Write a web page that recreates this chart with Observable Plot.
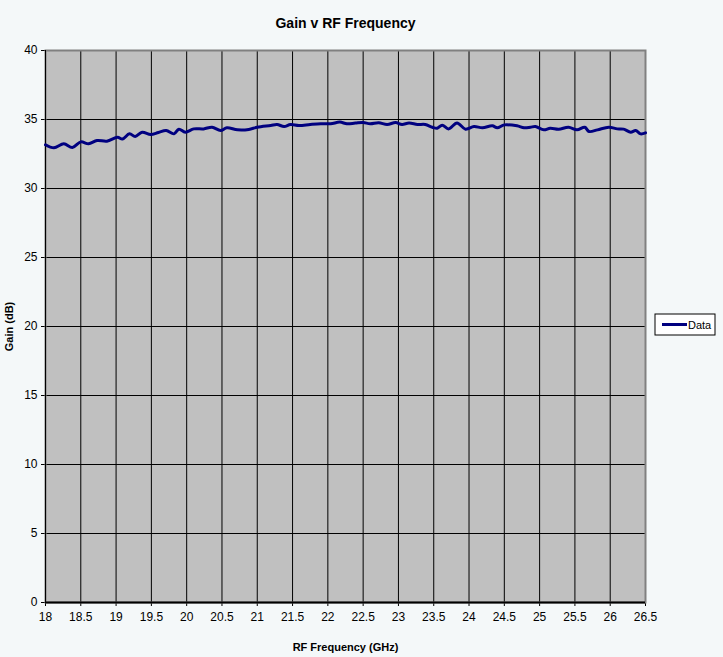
<!DOCTYPE html>
<html>
<head>
<meta charset="utf-8">
<script src="https://cdn.jsdelivr.net/npm/d3@7"></script>
<script src="https://cdn.jsdelivr.net/npm/@observablehq/plot@0.6"></script>
<style>
  html, body { margin: 0; padding: 0; background: #f4f8f9; }
  #chart { width: 723px; height: 657px; }
</style>
</head>
<body>
<div id="chart"></div>
<script>
const freqGHz = [18.0,18.12,18.26,18.38,18.5,18.61,18.73,18.87,19.02,19.09,19.19,19.27,19.37,19.49,19.6,19.71,19.82,19.89,19.98,20.1,20.24,20.36,20.48,20.57,20.72,20.88,
  21.0,21.19,21.28,21.38,21.47,21.59,21.75,21.9,22.04,22.17,22.27,22.39,22.5,22.6,22.72,22.84,22.96,23.05,23.15,23.27,23.38,23.48,23.55,23.62,23.71,
  23.83,23.95,24.07,24.19,24.33,24.4,24.5,24.68,24.78,24.87,24.94,25.06,25.15,25.27,25.41,25.53,25.64,25.7,25.82,25.98,26.1,26.19,26.29,26.36,26.43,26.5];
const gainDB = [33.17,32.95,33.24,32.97,33.38,33.24,33.48,33.43,33.72,33.58,33.96,33.77,34.08,33.91,34.06,34.2,33.96,34.3,34.08,34.32,34.32,34.44,34.2,34.4,34.25,34.28,
  34.44,34.57,34.64,34.49,34.64,34.57,34.64,34.69,34.69,34.81,34.69,34.74,34.78,34.69,34.76,34.64,34.78,34.64,34.74,34.64,34.64,34.44,34.37,34.59,34.32,
  34.74,34.3,34.49,34.4,34.54,34.4,34.61,34.54,34.4,34.44,34.49,34.25,34.37,34.3,34.44,34.25,34.44,34.13,34.25,34.44,34.32,34.3,34.08,34.2,33.96,34.03];
const xTicks = d3.range(18, 26.51, 0.5);
const yTicks = d3.range(0, 40.1, 5);
const seriesName = "Data";

const data = freqGHz.map((f, i) => ({f, g: gainDB[i]}));

const FONT = "'Liberation Sans Narrow', 'Arial Narrow', 'Liberation Sans', Arial, sans-serif";
const W = 723, H = 657, mL = 45, mR = 78, mT = 50, mB = 55;

const plot = Plot.plot({
  width: W, height: H,
  marginLeft: mL, marginRight: mR, marginTop: mT, marginBottom: mB,
  style: {background: "#f4f8f9", fontSize: "12px", color: "#000", fontFamily: FONT},
  x: {domain: [18, 26.5], ticks: xTicks, tickFormat: d => String(d), label: "RF Frequency (GHz)", labelArrow: "none", labelAnchor: "center", labelOffset: 48, tickSize: 4, tickPadding: 6},
  y: {domain: [0, 40], ticks: yTicks, label: "Gain (dB)", labelArrow: "none", labelAnchor: "center", labelOffset: 40, tickSize: 4, tickPadding: 4},
  marks: [
    Plot.frame({fill: "#c0c0c0", stroke: "none"}),
    Plot.gridX(xTicks, {stroke: "#000", strokeOpacity: 1, strokeWidth: 1}),
    Plot.gridY(yTicks, {stroke: "#000", strokeOpacity: 1, strokeWidth: 1}),
    Plot.frame({stroke: "#808080", strokeWidth: 2}),
    Plot.ruleX([18], {stroke: "#000"}),
    Plot.ruleY([0], {stroke: "#000", strokeWidth: 2}),
    Plot.line(data, {x: "f", y: "g", stroke: "#000080", strokeWidth: 3, curve: "catmull-rom"}),
    Plot.text(["Gain v RF Frequency"], {frameAnchor: "top", dy: -32, fontWeight: "bold", fontSize: 14})
  ]
});

const svg = d3.select(plot);
svg.selectAll("[aria-label='x-axis label'] text, [aria-label='y-axis label'] text")
  .attr("font-weight", "bold").attr("font-size", 11);

// legend box on right
const lx = W - mR + 10, ly = (mT + (H - mB)) / 2 - 12;
const lg = svg.append("g");
lg.append("rect").attr("x", lx).attr("y", ly).attr("width", 60).attr("height", 21)
  .attr("fill", "#fff").attr("stroke", "#000").attr("stroke-width", 1);
lg.append("line").attr("x1", lx + 7).attr("x2", lx + 32).attr("y1", ly + 10.5).attr("y2", ly + 10.5)
  .attr("stroke", "#000080").attr("stroke-width", 3);
lg.append("text").attr("x", lx + 33).attr("y", ly + 14.5)
  .attr("text-anchor", "start")
  .style("font-family", FONT).style("font-size", "11px")
  .attr("fill", "#000").text(seriesName);

document.getElementById("chart").appendChild(plot);
</script>
</body>
</html>
